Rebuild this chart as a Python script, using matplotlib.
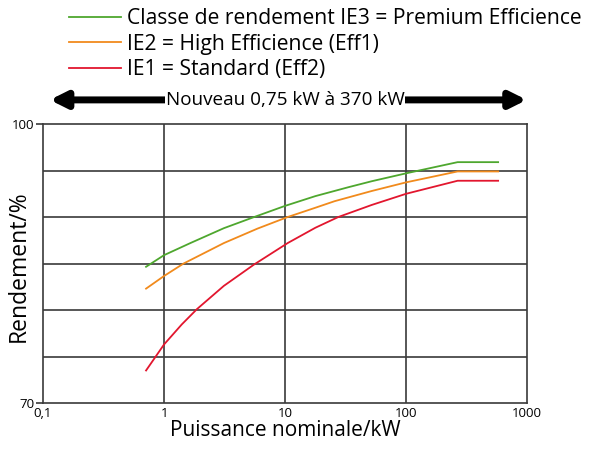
import numpy as np
import matplotlib.pyplot as plt

plt.rcParams['font.family'] = ['Open Sans', 'DejaVu Sans']

# Rendement (%) en fonction de la puissance nominale (kW)
p_ie3 = [0.71, 1, 1.65, 3.12, 5.55, 10, 17.8, 33.2, 52, 100, 266, 575]
r_ie3 = [84.65, 85.9, 87.2, 88.8, 90.0, 91.2, 92.25, 93.2, 93.85, 94.7, 95.9, 95.9]

p_ie2 = [0.71, 1, 1.45, 3.12, 5.9, 10.5, 17.8, 25.6, 52, 100, 266, 575]
r_ie2 = [82.3, 83.66, 85.0, 87.2, 88.75, 90.0, 91.0, 91.7, 92.8, 93.73, 94.9, 94.9]

p_ie1 = [0.71, 1, 1.4, 1.87, 3.12, 5.55, 10.5, 17.8, 27.5, 52, 100, 266, 575]
r_ie1 = [73.5, 76.3, 78.45, 80.1, 82.6, 84.9, 87.2, 88.85, 90.0, 91.3, 92.5, 93.9, 93.9]

labels = ['Classe de rendement IE3 = Premium Efficience',
          'IE2 = High Efficience (Eff1)',
          'IE1 = Standard (Eff2)']
colors = ['#4ea72e', '#f18a1c', '#e2162e']

x_ticks = [0.1, 1, 10, 100, 1000]
x_ticklabels = ['0,1', '1', '10', '100', '1000']

fig = plt.figure(figsize=(6, 4.5), dpi=100)
ax = fig.add_axes([0.0717, 0.1044, 0.807, 0.62])

lines = []
for p, r, c in zip([p_ie3, p_ie2, p_ie1], [r_ie3, r_ie2, r_ie1], colors):
    ln, = ax.plot(p, r, color=c, lw=1.3)
    lines.append(ln)

ax.set_xscale('log')
ax.set_xlim(0.1, 1000)
ax.set_ylim(70, 100)

# grille
for yv in [75, 80, 85, 90, 95]:
    ax.axhline(yv, color='#3a3a3a', lw=1.2, zorder=0)
for xv in [1, 10, 100]:
    ax.axvline(xv, color='#3a3a3a', lw=1.2, zorder=0)
for s in ax.spines.values():
    s.set_color('#3a3a3a')
    s.set_linewidth(1.2)

ax.set_xticks(x_ticks)
ax.set_xticklabels(x_ticklabels)
ax.minorticks_off()
ax.set_yticks([70, 100])
ax.set_yticklabels(['70', '100'])
ax.tick_params(axis='both', labelsize=9.5, length=5, width=1.2, color='#3a3a3a')
ax.tick_params(axis='x', length=0, pad=3)
ax.tick_params(axis='y', pad=1)

ax.set_xlabel('Puissance nominale/kW', fontsize=15, labelpad=0)
ax.set_ylabel('Rendement/%', fontsize=16.5)
ax.yaxis.set_label_coords(-0.025, 0.49)

fig.legend(lines, labels, loc='upper left', bbox_to_anchor=(0.101, 1.0),
           frameon=False, fontsize=15.2, handlelength=2.45, handletextpad=0.3,
           labelspacing=0.2, borderaxespad=0)

# flèche double au-dessus du graphique
ax.annotate('', xy=(0.083, 0.778), xytext=(0.878, 0.778),
            xycoords='figure fraction',
            arrowprops=dict(arrowstyle='<|-|>', color='black', lw=5,
                            mutation_scale=24, shrinkA=0, shrinkB=0))
fig.text(0.475, 0.778, 'Nouveau 0,75 kW à 370 kW', ha='center', va='center',
         fontsize=13.6, bbox=dict(facecolor='white', edgecolor='none', pad=0.5))

fig.savefig('out.png', dpi=100)
